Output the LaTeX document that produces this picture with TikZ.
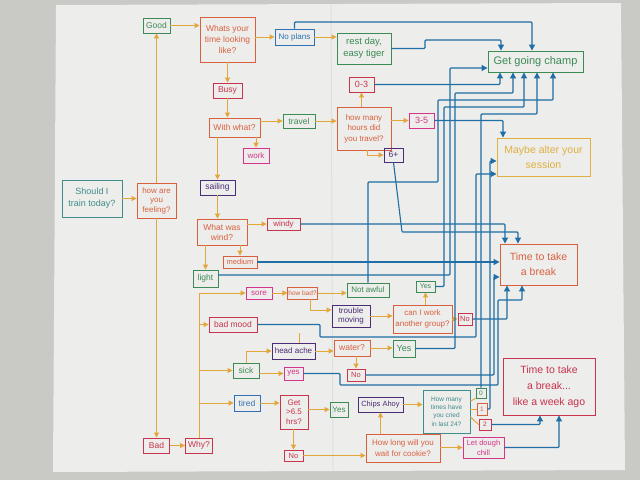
\documentclass[tikz,border=0pt]{standalone}
\usepackage{fontspec}
\setmainfont{Liberation Sans}
\usetikzlibrary{arrows.meta,calc}
\definecolor{paper}{HTML}{EDEDEB}
\definecolor{edgec}{HTML}{C9C9C5}
\definecolor{ora}{HTML}{E3A63A}
\definecolor{blu}{HTML}{1F6EA5}
\definecolor{cGrn}{HTML}{3C8A55}
\definecolor{cRed}{HTML}{D9603F}
\definecolor{cCrim}{HTML}{C8334D}
\definecolor{cMag}{HTML}{D6338A}
\definecolor{cPur}{HTML}{4B2C77}
\definecolor{cBlu}{HTML}{2E72B5}
\definecolor{cTeal}{HTML}{3E8C8C}
\definecolor{cGold}{HTML}{E0B040}
\newcommand\fsz[2]{\fontsize{#1}{#2}\selectfont}
\tikzset{
  bx/.style={draw=#1, text=#1, line width=0.9pt, inner sep=0.5pt, align=center, font=\fsz{8.5}{10}},
  mw/.style={minimum width=#1pt},
  mh/.style={minimum height=#1pt},
  oa/.style={draw=ora, line width=1pt, -{Triangle[length=5pt,width=5pt]}},
  ol/.style={draw=ora, line width=1pt},
  bl/.style={draw=blu, line width=1.1pt, rounded corners=1pt, -{Triangle[length=6pt,width=6pt]}},
}
\begin{document}
\begin{tikzpicture}[x=1pt,y=-1pt]
\useasboundingbox (0,0) rectangle (640,480);
\fill[edgec] (0,0) rectangle (640,480);
\fill[paper] (56,5) -- (621,3) -- (625,470) -- (53,472) -- cycle;
\draw[gray!25, line width=1pt] (331,5) -- (333,470);

% nodes
\node[bx=cTeal,mw=60,mh=37,font=\fsz{9}{12}] (should) at (92,198.5) {Should I\\train today?};
\node[bx=cRed,mw=39,mh=35,font=\fsz{8}{9.5}] (howfeel) at (156.5,200.5) {how are\\you\\feeling?};
\node[bx=cGrn,mw=27,mh=15] (good) at (156.5,25.5) {Good};
\node[bx=cRed,mw=55,mh=45,font=\fsz{8.5}{11}] (whats) at (227.5,39.5) {Whats your\\time looking\\like?};
\node[bx=cBlu,mw=39,mh=16,font=\fsz{8}{9}] (nop) at (294.5,37) {No plans};
\node[bx=cGrn,mw=54,mh=31,font=\fsz{9.5}{12}] (rest) at (364,48.5) {rest day,\\easy tiger};
\node[bx=cCrim,mw=29,mh=15] (busy) at (227.5,90.5) {Busy};
\node[bx=cRed,mw=51,mh=19] (withwhat) at (234.5,127.5) {With what?};
\node[bx=cGrn,mw=32,mh=14] (travel) at (299,121) {travel};
\node[bx=cRed,mw=54,mh=43,font=\fsz{8}{10.5}] (hours) at (364,128.5) {how many\\hours did\\you travel?};
\node[bx=cCrim,mw=25,mh=15,font=\fsz{9}{10}] (z3) at (361.5,84.5) {0-3};
\node[bx=cMag,mw=25,mh=15,font=\fsz{9}{10}] (t5) at (421.5,120.5) {3-5};
\node[bx=cPur,mw=19,mh=14] (s6) at (393.5,155) {6+};
\node[bx=cMag,mw=26,mh=15,font=\fsz{8}{9}] (work) at (256,155.5) {work};
\node[bx=cPur,mw=35,mh=15] (sailing) at (217.5,187.5) {sailing};
\node[bx=cRed,mw=50,mh=26] (wind) at (222,232) {What was\\wind?};
\node[bx=cCrim,mw=33,mh=12,font=\fsz{8}{9}] (windy) at (283.5,224) {windy};
\node[bx=cRed,mw=34,mh=12,font=\fsz{7.5}{9}] (medium) at (240,262) {medium};
\node[bx=cGrn,mw=25,mh=17] (light) at (205.5,278.5) {light};
\node[bx=cMag,mw=26,mh=12,font=\fsz{8}{9}] (sore) at (259,293) {sore};
\node[bx=cRed,mw=29,mh=12,font=\fsz{6.5}{8}] (howbad) at (302.5,293) {how bad?};
\node[bx=cGrn,mw=42,mh=14,font=\fsz{8}{9}] (notawful) at (368,290) {Not awful};
\node[bx=cPur,mw=38,mh=22,font=\fsz{8}{9.5}] (trouble) at (351,316) {trouble\\moving};
\node[bx=cRed,mw=59,mh=28,font=\fsz{8}{10.5}] (canwork) at (422.5,319) {can I work\\another group?};
\node[bx=cGrn,mw=19,mh=11,font=\fsz{7}{8}] (yesciw) at (425.5,286.5) {Yes};
\node[bx=cCrim,mw=14,mh=12,font=\fsz{7.5}{8}] (nociw) at (465,319) {No};
\node[bx=cCrim,mw=48,mh=15] (badmood) at (233,324.5) {bad mood};
\node[bx=cPur,mw=43,mh=16,font=\fsz{8}{9}] (headache) at (293.5,351) {head ache};
\node[bx=cRed,mw=36,mh=16] (water) at (352,348) {water?};
\node[bx=cGrn,mw=22,mh=17,font=\fsz{9}{10}] (yeswater) at (404,348.5) {Yes};
\node[bx=cCrim,mw=18,mh=12,font=\fsz{7.5}{8}] (nowater) at (356,375) {No};
\node[bx=cGrn,mw=26,mh=15] (sick) at (246,370.5) {sick};
\node[bx=cMag,mw=19,mh=13,font=\fsz{8}{9}] (yessick) at (293.5,373.5) {yes};
\node[bx=cBlu,mw=26,mh=16] (tired) at (247,403) {tired};
\node[bx=cCrim,mw=28,mh=34,font=\fsz{8}{9.5}] (get) at (294,412) {Get\\>6.5\\hrs?};
\node[bx=cGrn,mw=18,mh=15,font=\fsz{8}{9}] (yesget) at (339,409.5) {Yes};
\node[bx=cCrim,mw=19,mh=11,font=\fsz{7.5}{8}] (noget) at (293.5,455.5) {No};
\node[bx=cPur,mw=45,mh=15,font=\fsz{7.5}{8}] (chips) at (380.5,404.5) {Chips Ahoy};
\node[bx=cTeal,mw=47,mh=43,font=\fsz{6.5}{8.3}] (cried) at (446.5,411.5) {How many\\times have\\you cried\\in last 24?};
\node[bx=cRed,mw=74,mh=28,font=\fsz{8}{11}] (howlong) at (403,448) {How long will you\\wait for cookie?};
\node[bx=cMag,mw=41,mh=21,font=\fsz{7.5}{10}] (dough) at (483.5,447.5) {Let dough\\chill};
\node[bx=cGrn,mw=10,mh=10,font=\fsz{6.5}{7}] (c0) at (481,393) {0};
\node[bx=cRed,mw=10,mh=12,font=\fsz{6.5}{7}] (c1) at (482,409) {1};
\node[bx=cCrim,mw=12,mh=11,font=\fsz{6.5}{7}] (c2) at (485,424.5) {2};
\node[bx=cCrim,mw=26,mh=15] (bad) at (156.5,445.5) {Bad};
\node[bx=cCrim,mw=27,mh=15] (why) at (199,445.5) {Why?};
\node[bx=cGrn,mw=95,mh=21,font=\fsz{11}{12}] (ggc) at (535.5,61.5) {Get going champ};
\node[bx=cGold,mw=93,mh=38,font=\fsz{10.5}{15}] (ma) at (543.5,157) {Maybe alter your\\session};
\node[bx=cRed,mw=77,mh=41,font=\fsz{10.5}{15}] (tb) at (538.5,264.5) {Time to take\\a break};
\node[bx=cCrim,mw=92,mh=57,font=\fsz{10.5}{16}] (wa) at (549,386.5) {Time to take\\a break...\\like a week ago};

% orange flow
\draw[oa] (should.east) -- (should.east -| howfeel.west);
\draw[oa] (howfeel.north) -- (good.south);
\draw[oa] (howfeel.south) -- (bad.north);
\draw[oa] (good.east) -- (good.east -| whats.west);
\draw[oa] (whats.east |- nop.west) -- (nop.west);
\draw[oa] (nop.east) -- (nop.east -| rest.west);
\draw[oa] (whats.south) -- (busy.north);
\draw[oa] (busy.south) -- (busy.south |- withwhat.north);
\draw[oa] (withwhat.east |- travel.west) -- (travel.west);
\draw[oa] (travel.east) -- (travel.east -| hours.west);
\draw[oa] (hours.north -| z3.south) -- (z3.south);
\draw[oa] (hours.east |- t5.west) -- (t5.west);
\draw[oa] (hours.south -| 367,0) |- (s6.west);
\draw[oa] (withwhat.south -| work.north) -- (work.north);
\draw[oa] (withwhat.south -| sailing.north) -- (sailing.north);
\draw[oa] (sailing.south) -- (sailing.south |- wind.north);
\draw[oa] (wind.east |- windy.west) -- (windy.west);
\draw[oa] (wind.south -| medium.north) -- (medium.north);
\draw[oa] (wind.south -| light.north) -- (light.north);
\draw[oa] (bad.east) -- (bad.east -| why.west);
\draw[ol] (why.north) -- (why.north |- sore.west);
\draw[oa] (why.north |- sore.west) -- (sore.west);
\draw[oa] (why.north |- badmood.west) -- (badmood.west);
\draw[oa] (why.north |- sick.west) -- (sick.west);
\draw[oa] (why.north |- tired.west) -- (tired.west);
\draw[oa] (sore.east) -- (howbad.west);
\draw[oa] (howbad.east) -- (howbad.east -| notawful.west);
\draw[oa] (howbad.south -| 310,0) |- (trouble.west |- 0,310);
\draw[oa] (trouble.east) -- (trouble.east -| canwork.west);
\draw[oa] (canwork.north -| yesciw.south) -- (yesciw.south);
\draw[oa] (canwork.east |- nociw.west) -- (nociw.west);
\draw[oa] (sick.north) |- (headache.west);
\draw[ol] (headache.north -| 299,0) -- ++(0,-10);
\draw[oa] (headache.east) -- (headache.east -| water.west);
\draw[oa] (water.east) -- (water.east -| yeswater.west);
\draw[oa] (water.south -| nowater.north) -- (nowater.north);
\draw[oa] (sick.east |- yessick.west) -- (yessick.west);
\draw[oa] (tired.east) -- (tired.east -| get.west);
\draw[oa] (get.east |- yesget.west) -- (yesget.west);
\draw[oa] (get.south -| noget.north) -- (noget.north);
\draw[oa] (noget.east) -- (noget.east -| howlong.west);
\draw[oa] (howlong.north -| chips.south) -- (chips.south);
\draw[oa] (chips.east) -- (chips.east -| cried.west);
\draw[oa] (howlong.east |- dough.west) -- (dough.west);
\draw[ol] (cried.east |- 0,401) -- (c0.south west);
\draw[ol] (cried.east |- 0,409) -- (c1.west);
\draw[ol] (cried.east |- 0,417) -- (c2.west);

% blue connectors
\draw[bl] (nop.north) |- (532,22) -- (ggc.north -| 532,0);
\draw[bl] (rest.east) -- (425,48.5) |- (501,40) -- (ggc.north -| 501,0);
\draw[bl] (z3.east) -| (ggc.south -| 500,0);
\draw[bl] (light.east |- 0,275) -- (450,275) |- (ggc.west |- 0,68);
\draw[bl] (yeswater.east) -- (455,348.5) |- (513,93) -- (ggc.south -| 513,0);
\draw[bl] (yesciw.east) -- (444,286.5) |- (524,107) -- (ggc.south -| 524,0);
\draw[bl] (c0.north) |- (537,114) -- (ggc.south -| 537,0);
\draw[bl] (notawful.north) |- (438,182) |- (553,100) -- (ggc.south -| 553,0);
\draw[bl] (t5.east) -| (ma.north -| 503,0);
\draw[bl] (c1.east) -- (490,409) |- (ma.west |- 0,161);
\draw[bl] (badmood.east) -- (320,324.5) |- (476,337) |- (ma.west |- 0,174);
\draw[bl] (windy.east) -| (tb.north -| 505,0);
\draw[bl] (s6.south) -- (402,232) -| (tb.north -| 518,0);
\draw[bl] (medium.east) -- (tb.west |- medium.east);
\draw[bl] (nowater.east) -- (494,375) |- (tb.west |- 0,277);
\draw[bl] (nociw.east) -| (tb.south -| 507,0);
\draw[bl] (yessick.east) -- (340,373.5) |- (498,385) |- (522,300) -- (tb.south -| 522,0);
\draw[bl] (c2.east) -| (wa.south -| 540,0);
\draw[bl] (dough.east) -| (wa.south -| 559,0);
\end{tikzpicture}
\end{document}
